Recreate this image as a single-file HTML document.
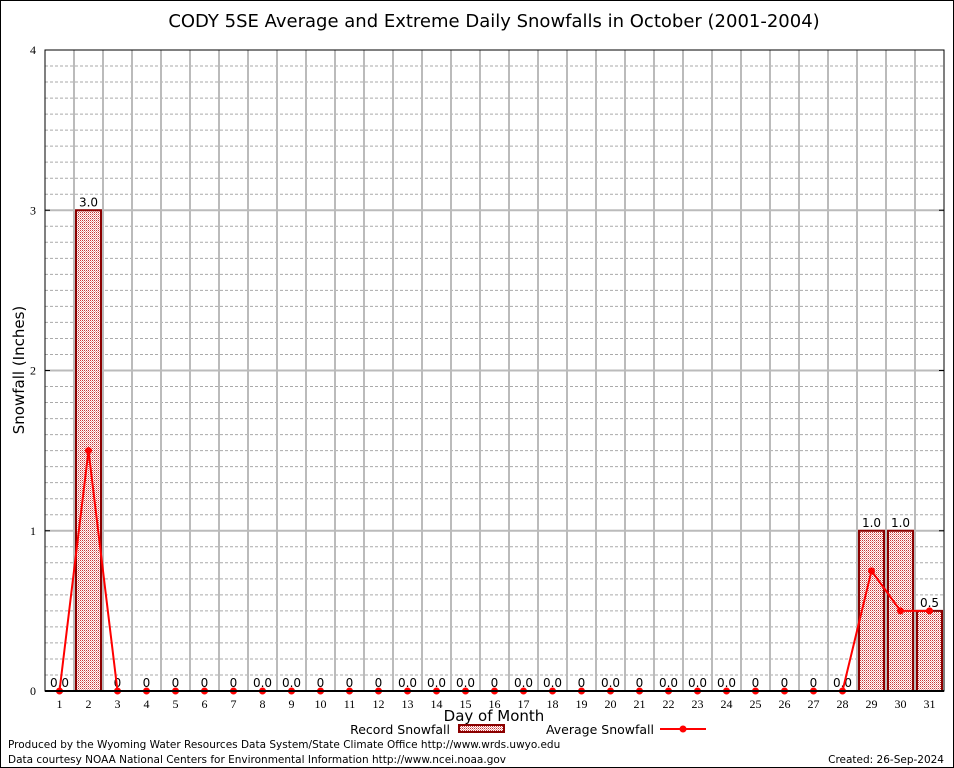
<!DOCTYPE html>
<html><head><meta charset="utf-8"><style>
body{margin:0;background:#fff;}
svg{display:block;font-family:"DejaVu Sans","Liberation Sans",sans-serif;}
</style></head><body>
<svg id="c" width="954" height="768">
<defs>
<pattern id="hatch" width="2" height="2" patternUnits="userSpaceOnUse">
<rect width="2" height="2" fill="#fff"/><rect width="1" height="1" fill="#c83838"/><rect x="1" y="1" width="1" height="1" fill="#e8a0a0"/>
</pattern>
</defs>
<rect x="0.5" y="0.5" width="953" height="767" fill="#fff" stroke="#000"/>
<text x="494" y="27" font-size="18" text-anchor="middle">CODY 5SE Average and Extreme Daily Snowfalls in October (2001-2004)</text>
<g id="grid"></g>
<g id="bars"></g>
<g id="line"></g>
<g id="axes"></g>
<text x="24" y="370" font-size="15" text-anchor="middle" transform="rotate(-90 24 370)">Snowfall (Inches)</text>
<text x="494" y="721" font-size="15" text-anchor="middle">Day of Month</text>
<g>
<text x="450" y="734" font-size="12.5" text-anchor="end">Record Snowfall</text>
<rect x="459" y="725" width="45" height="7" fill="url(#hatch)" stroke="#8b0000" stroke-width="2"/>
<text x="654" y="734" font-size="12.5" text-anchor="end">Average Snowfall</text>
<line x1="660" y1="729" x2="706" y2="729" stroke="#f00" stroke-width="2"/>
<circle cx="683" cy="729" r="3.5" fill="#f00"/>
</g>
<text x="8" y="748" font-size="10.5">Produced by the Wyoming Water Resources Data System/State Climate Office http://www.wrds.uwyo.edu</text>
<text x="8" y="763" font-size="10.5">Data courtesy NOAA National Centers for Environmental Information http://www.ncei.noaa.gov</text>
<text x="944" y="763" font-size="10.5" text-anchor="end">Created: 26-Sep-2024</text>
</svg>
<script>
const days=[1,2,3,4,5,6,7,8,9,10,11,12,13,14,15,16,17,18,19,20,21,22,23,24,25,26,27,28,29,30,31];
const recordSnow=[0,3.0,0,0,0,0,0,0,0,0,0,0,0,0,0,0,0,0,0,0,0,0,0,0,0,0,0,0,1.0,1.0,0.5];
const avgSnow=[0,1.5,0,0,0,0,0,0,0,0,0,0,0,0,0,0,0,0,0,0,0,0,0,0,0,0,0,0,0.75,0.5,0.5];
const barLabels=["0.0","3.0","0","0","0","0","0","0.0","0.0","0","0","0","0.0","0.0","0.0","0","0.0","0.0","0","0.0","0","0.0","0.0","0.0","0","0","0","0.0","1.0","1.0","0.5"];
const yTicks=[0,1,2,3,4];
const L=45,R=944,T=50,B=691,yMax=4;
const step=(R-L)/days.length;
const xs=i=>L+(i+0.5)*step;
const ys=v=>B-(v/yMax)*(B-T);
const NS="http://www.w3.org/2000/svg";
function mk(p,t,a){const e=document.createElementNS(NS,t);for(const k in a)e.setAttribute(k,a[k]);p.appendChild(e);return e;}
const grid=document.getElementById('grid'),bars=document.getElementById('bars'),line=document.getElementById('line'),axes=document.getElementById('axes');
for(let k=1;k<yMax*10;k++){if(k%10===0)continue;const y=ys(k/10);
const g=mk(grid,'line',{x1:L,x2:R,y1:y,y2:y,stroke:'#aaa','stroke-dasharray':'3,2','stroke-width':1});

}
for(let i=1;i<days.length;i++){const x=L+i*step;
const g=mk(grid,'line',{x1:x,x2:x,y1:T,y2:B,stroke:'#bbb','stroke-width':2});

}
yTicks.forEach(v=>{const y=ys(v);
if(v>0&&v<yMax){const g=mk(grid,'line',{x1:L,x2:R,y1:y,y2:y,stroke:'#bbb','stroke-width':2});

}
const t=mk(axes,'text',{x:L-9,y:y+4,'font-size':12,'text-anchor':'end','font-family':'Liberation Serif,serif'});t.textContent=v;


mk(axes,'line',{x1:L,x2:L+5,y1:y,y2:y,stroke:'#000'});mk(axes,'line',{x1:R-5,x2:R,y1:y,y2:y,stroke:'#000'});});
days.forEach((d,i)=>{const x=xs(i);const v=recordSnow[i];
if(v>0){const r=mk(bars,'rect',{x:x-step/2+2,y:ys(v),width:step-4,height:B-ys(v),fill:'url(#hatch)',stroke:'#8b0000','stroke-width':2});

}
const t=mk(bars,'text',{x:x,y:ys(v)-4,'font-size':12,'text-anchor':'middle'});t.textContent=barLabels[i];


const tl=mk(axes,'text',{x:x,y:B+17,'font-size':12,'text-anchor':'middle','font-family':'Liberation Serif,serif'});tl.textContent=d;

});
const pl=mk(line,'polyline',{points:avgSnow.map((v,i)=>xs(i)+','+ys(v)).join(' '),fill:'none',stroke:'#f00','stroke-width':2});


avgSnow.forEach((v,i)=>{const c=mk(line,'circle',{cx:xs(i),cy:ys(v),r:3.5,fill:'#f00'});

});
const fr=mk(axes,'rect',{x:L,y:T,width:R-L,height:B-T,fill:'none',stroke:'#000','stroke-width':1});


mk(axes,'line',{x1:L,x2:R,y1:B,y2:B,stroke:'#000','stroke-width':2});
</script>
</body></html>
